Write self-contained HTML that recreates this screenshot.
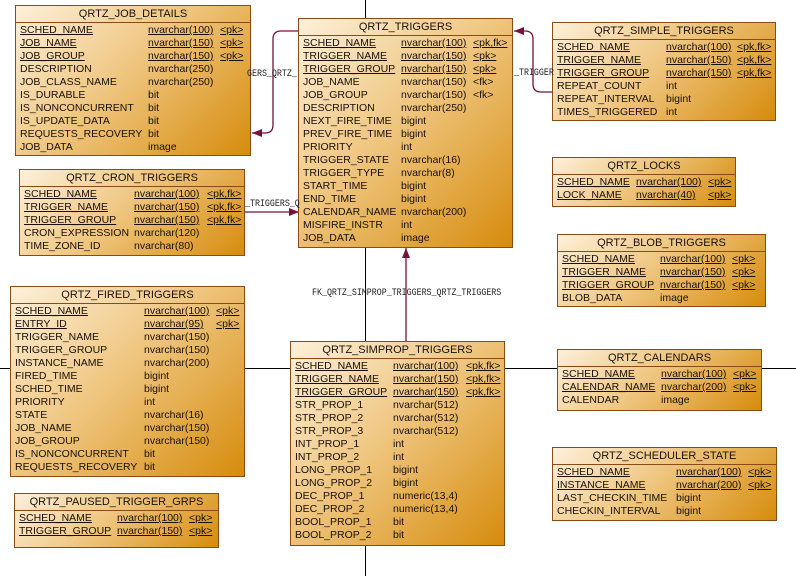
<!DOCTYPE html>
<html><head><meta charset="utf-8"><style>
body{margin:0;width:796px;height:576px;background:#fff;position:relative;overflow:hidden;font-family:"Liberation Sans",sans-serif;font-size:10.5px;color:#1a1008}
.t{position:absolute;border:1px solid #8a4b14;background:linear-gradient(135deg,#fdf0da 0%,#efc680 45%,#d68c0c 100%);box-sizing:border-box}
.h{height:16px;line-height:16px;text-align:center;border-bottom:1px solid #8a4b14;font-size:11px}
.b{padding-top:1px}
.r{height:13px;line-height:13px;white-space:nowrap;position:relative}
.r span{position:absolute;top:0}
.u{text-decoration:underline}
.lbl{position:absolute;z-index:5;font-family:"Liberation Mono",monospace;font-size:10px;color:#222;white-space:nowrap;transform:scaleX(0.83);transform-origin:0 0}
svg{position:absolute;left:0;top:0}
</style></head><body>
<svg width="796" height="576">
<line x1="365.5" y1="0" x2="365.5" y2="576" stroke="#000"/>
<line x1="0" y1="368.5" x2="796" y2="368.5" stroke="#000"/>
<g stroke="#7a0f3a" fill="none" stroke-width="1.3">
<path d="M299 31 H281 Q273 31 273 39 V125 Q273 133 265 133 H252"/>
<path d="M552 92 H541 Q533 92 533 84 V39 Q533 31 525 31 H514"/>
<path d="M244 212 H299"/>
<path d="M406 341 V248"/>
</g>
<g fill="#7a0f3a">
<polygon points="252,133 262,129 262,137"/>
<polygon points="514,31 524,27 524,35"/>
<polygon points="299,212 289,208 289,216"/>
<polygon points="406,248 402,258 410,258"/>
</g>
</svg>
<div class="lbl" style="left:247px;top:69px">GERS_QRTZ_</div>
<div class="lbl" style="left:514px;top:68px">_TRIGGER</div>
<div class="lbl" style="left:245px;top:199px">_TRIGGERS_Q</div>
<div class="lbl" style="left:312px;top:288px">FK_QRTZ_SIMPROP_TRIGGERS_QRTZ_TRIGGERS</div>

<div class="t" style="left:15px;top:5px;width:236px;height:151px"><div class="h">QRTZ_JOB_DETAILS</div><div class="b">
<div class="r"><span class="u" style="left:4px">SCHED_NAME</span><span class="u" style="left:132px">nvarchar(100)</span><span class="u" style="left:204px">&lt;pk&gt;</span></div>
<div class="r"><span class="u" style="left:4px">JOB_NAME</span><span class="u" style="left:132px">nvarchar(150)</span><span class="u" style="left:204px">&lt;pk&gt;</span></div>
<div class="r"><span class="u" style="left:4px">JOB_GROUP</span><span class="u" style="left:132px">nvarchar(150)</span><span class="u" style="left:204px">&lt;pk&gt;</span></div>
<div class="r"><span style="left:4px">DESCRIPTION</span><span style="left:132px">nvarchar(250)</span></div>
<div class="r"><span style="left:4px">JOB_CLASS_NAME</span><span style="left:132px">nvarchar(250)</span></div>
<div class="r"><span style="left:4px">IS_DURABLE</span><span style="left:132px">bit</span></div>
<div class="r"><span style="left:4px">IS_NONCONCURRENT</span><span style="left:132px">bit</span></div>
<div class="r"><span style="left:4px">IS_UPDATE_DATA</span><span style="left:132px">bit</span></div>
<div class="r"><span style="left:4px">REQUESTS_RECOVERY</span><span style="left:132px">bit</span></div>
<div class="r"><span style="left:4px">JOB_DATA</span><span style="left:132px">image</span></div>
</div></div>

<div class="t" style="left:298px;top:18px;width:215px;height:230px"><div class="h">QRTZ_TRIGGERS</div><div class="b">
<div class="r"><span class="u" style="left:4px">SCHED_NAME</span><span class="u" style="left:102px">nvarchar(100)</span><span class="u" style="left:174px">&lt;pk,fk&gt;</span></div>
<div class="r"><span class="u" style="left:4px">TRIGGER_NAME</span><span class="u" style="left:102px">nvarchar(150)</span><span class="u" style="left:174px">&lt;pk&gt;</span></div>
<div class="r"><span class="u" style="left:4px">TRIGGER_GROUP</span><span class="u" style="left:102px">nvarchar(150)</span><span class="u" style="left:174px">&lt;pk&gt;</span></div>
<div class="r"><span style="left:4px">JOB_NAME</span><span style="left:102px">nvarchar(150)</span><span style="left:174px">&lt;fk&gt;</span></div>
<div class="r"><span style="left:4px">JOB_GROUP</span><span style="left:102px">nvarchar(150)</span><span style="left:174px">&lt;fk&gt;</span></div>
<div class="r"><span style="left:4px">DESCRIPTION</span><span style="left:102px">nvarchar(250)</span></div>
<div class="r"><span style="left:4px">NEXT_FIRE_TIME</span><span style="left:102px">bigint</span></div>
<div class="r"><span style="left:4px">PREV_FIRE_TIME</span><span style="left:102px">bigint</span></div>
<div class="r"><span style="left:4px">PRIORITY</span><span style="left:102px">int</span></div>
<div class="r"><span style="left:4px">TRIGGER_STATE</span><span style="left:102px">nvarchar(16)</span></div>
<div class="r"><span style="left:4px">TRIGGER_TYPE</span><span style="left:102px">nvarchar(8)</span></div>
<div class="r"><span style="left:4px">START_TIME</span><span style="left:102px">bigint</span></div>
<div class="r"><span style="left:4px">END_TIME</span><span style="left:102px">bigint</span></div>
<div class="r"><span style="left:4px">CALENDAR_NAME</span><span style="left:102px">nvarchar(200)</span></div>
<div class="r"><span style="left:4px">MISFIRE_INSTR</span><span style="left:102px">int</span></div>
<div class="r"><span style="left:4px">JOB_DATA</span><span style="left:102px">image</span></div>
</div></div>

<div class="t" style="left:552px;top:22px;width:224px;height:99px"><div class="h">QRTZ_SIMPLE_TRIGGERS</div><div class="b">
<div class="r"><span class="u" style="left:4px">SCHED_NAME</span><span class="u" style="left:113px">nvarchar(100)</span><span class="u" style="left:184px">&lt;pk,fk&gt;</span></div>
<div class="r"><span class="u" style="left:4px">TRIGGER_NAME</span><span class="u" style="left:113px">nvarchar(150)</span><span class="u" style="left:184px">&lt;pk,fk&gt;</span></div>
<div class="r"><span class="u" style="left:4px">TRIGGER_GROUP</span><span class="u" style="left:113px">nvarchar(150)</span><span class="u" style="left:184px">&lt;pk,fk&gt;</span></div>
<div class="r"><span style="left:4px">REPEAT_COUNT</span><span style="left:113px">int</span></div>
<div class="r"><span style="left:4px">REPEAT_INTERVAL</span><span style="left:113px">bigint</span></div>
<div class="r"><span style="left:4px">TIMES_TRIGGERED</span><span style="left:113px">int</span></div>
</div></div>

<div class="t" style="left:19px;top:169px;width:226px;height:87px"><div class="h">QRTZ_CRON_TRIGGERS</div><div class="b">
<div class="r"><span class="u" style="left:4px">SCHED_NAME</span><span class="u" style="left:114px">nvarchar(100)</span><span class="u" style="left:187px">&lt;pk,fk&gt;</span></div>
<div class="r"><span class="u" style="left:4px">TRIGGER_NAME</span><span class="u" style="left:114px">nvarchar(150)</span><span class="u" style="left:187px">&lt;pk,fk&gt;</span></div>
<div class="r"><span class="u" style="left:4px">TRIGGER_GROUP</span><span class="u" style="left:114px">nvarchar(150)</span><span class="u" style="left:187px">&lt;pk,fk&gt;</span></div>
<div class="r"><span style="left:4px">CRON_EXPRESSION</span><span style="left:114px">nvarchar(120)</span></div>
<div class="r"><span style="left:4px">TIME_ZONE_ID</span><span style="left:114px">nvarchar(80)</span></div>
</div></div>

<div class="t" style="left:552px;top:157px;width:184px;height:50px"><div class="h">QRTZ_LOCKS</div><div class="b">
<div class="r"><span class="u" style="left:4px">SCHED_NAME</span><span class="u" style="left:83px">nvarchar(100)</span><span class="u" style="left:155px">&lt;pk&gt;</span></div>
<div class="r"><span class="u" style="left:4px">LOCK_NAME</span><span class="u" style="left:83px">nvarchar(40)</span><span class="u" style="left:155px">&lt;pk&gt;</span></div>
</div></div>

<div class="t" style="left:557px;top:234px;width:209px;height:73px"><div class="h">QRTZ_BLOB_TRIGGERS</div><div class="b">
<div class="r"><span class="u" style="left:4px">SCHED_NAME</span><span class="u" style="left:102px">nvarchar(100)</span><span class="u" style="left:174px">&lt;pk&gt;</span></div>
<div class="r"><span class="u" style="left:4px">TRIGGER_NAME</span><span class="u" style="left:102px">nvarchar(150)</span><span class="u" style="left:174px">&lt;pk&gt;</span></div>
<div class="r"><span class="u" style="left:4px">TRIGGER_GROUP</span><span class="u" style="left:102px">nvarchar(150)</span><span class="u" style="left:174px">&lt;pk&gt;</span></div>
<div class="r"><span style="left:4px">BLOB_DATA</span><span style="left:102px">image</span></div>
</div></div>

<div class="t" style="left:10px;top:286px;width:235px;height:191px"><div class="h">QRTZ_FIRED_TRIGGERS</div><div class="b">
<div class="r"><span class="u" style="left:4px">SCHED_NAME</span><span class="u" style="left:133px">nvarchar(100)</span><span class="u" style="left:205px">&lt;pk&gt;</span></div>
<div class="r"><span class="u" style="left:4px">ENTRY_ID</span><span class="u" style="left:133px">nvarchar(95)</span><span class="u" style="left:205px">&lt;pk&gt;</span></div>
<div class="r"><span style="left:4px">TRIGGER_NAME</span><span style="left:133px">nvarchar(150)</span></div>
<div class="r"><span style="left:4px">TRIGGER_GROUP</span><span style="left:133px">nvarchar(150)</span></div>
<div class="r"><span style="left:4px">INSTANCE_NAME</span><span style="left:133px">nvarchar(200)</span></div>
<div class="r"><span style="left:4px">FIRED_TIME</span><span style="left:133px">bigint</span></div>
<div class="r"><span style="left:4px">SCHED_TIME</span><span style="left:133px">bigint</span></div>
<div class="r"><span style="left:4px">PRIORITY</span><span style="left:133px">int</span></div>
<div class="r"><span style="left:4px">STATE</span><span style="left:133px">nvarchar(16)</span></div>
<div class="r"><span style="left:4px">JOB_NAME</span><span style="left:133px">nvarchar(150)</span></div>
<div class="r"><span style="left:4px">JOB_GROUP</span><span style="left:133px">nvarchar(150)</span></div>
<div class="r"><span style="left:4px">IS_NONCONCURRENT</span><span style="left:133px">bit</span></div>
<div class="r"><span style="left:4px">REQUESTS_RECOVERY</span><span style="left:133px">bit</span></div>
</div></div>

<div class="t" style="left:290px;top:341px;width:215px;height:205px"><div class="h">QRTZ_SIMPROP_TRIGGERS</div><div class="b">
<div class="r"><span class="u" style="left:4px">SCHED_NAME</span><span class="u" style="left:102px">nvarchar(100)</span><span class="u" style="left:175px">&lt;pk,fk&gt;</span></div>
<div class="r"><span class="u" style="left:4px">TRIGGER_NAME</span><span class="u" style="left:102px">nvarchar(150)</span><span class="u" style="left:175px">&lt;pk,fk&gt;</span></div>
<div class="r"><span class="u" style="left:4px">TRIGGER_GROUP</span><span class="u" style="left:102px">nvarchar(150)</span><span class="u" style="left:175px">&lt;pk,fk&gt;</span></div>
<div class="r"><span style="left:4px">STR_PROP_1</span><span style="left:102px">nvarchar(512)</span></div>
<div class="r"><span style="left:4px">STR_PROP_2</span><span style="left:102px">nvarchar(512)</span></div>
<div class="r"><span style="left:4px">STR_PROP_3</span><span style="left:102px">nvarchar(512)</span></div>
<div class="r"><span style="left:4px">INT_PROP_1</span><span style="left:102px">int</span></div>
<div class="r"><span style="left:4px">INT_PROP_2</span><span style="left:102px">int</span></div>
<div class="r"><span style="left:4px">LONG_PROP_1</span><span style="left:102px">bigint</span></div>
<div class="r"><span style="left:4px">LONG_PROP_2</span><span style="left:102px">bigint</span></div>
<div class="r"><span style="left:4px">DEC_PROP_1</span><span style="left:102px">numeric(13,4)</span></div>
<div class="r"><span style="left:4px">DEC_PROP_2</span><span style="left:102px">numeric(13,4)</span></div>
<div class="r"><span style="left:4px">BOOL_PROP_1</span><span style="left:102px">bit</span></div>
<div class="r"><span style="left:4px">BOOL_PROP_2</span><span style="left:102px">bit</span></div>
</div></div>

<div class="t" style="left:557px;top:349px;width:205px;height:62px"><div class="h">QRTZ_CALENDARS</div><div class="b">
<div class="r"><span class="u" style="left:4px">SCHED_NAME</span><span class="u" style="left:103px">nvarchar(100)</span><span class="u" style="left:175px">&lt;pk&gt;</span></div>
<div class="r"><span class="u" style="left:4px">CALENDAR_NAME</span><span class="u" style="left:103px">nvarchar(200)</span><span class="u" style="left:175px">&lt;pk&gt;</span></div>
<div class="r"><span style="left:4px">CALENDAR</span><span style="left:103px">image</span></div>
</div></div>

<div class="t" style="left:552px;top:447px;width:225px;height:74px"><div class="h">QRTZ_SCHEDULER_STATE</div><div class="b">
<div class="r"><span class="u" style="left:4px">SCHED_NAME</span><span class="u" style="left:123px">nvarchar(100)</span><span class="u" style="left:195px">&lt;pk&gt;</span></div>
<div class="r"><span class="u" style="left:4px">INSTANCE_NAME</span><span class="u" style="left:123px">nvarchar(200)</span><span class="u" style="left:195px">&lt;pk&gt;</span></div>
<div class="r"><span style="left:4px">LAST_CHECKIN_TIME</span><span style="left:123px">bigint</span></div>
<div class="r"><span style="left:4px">CHECKIN_INTERVAL</span><span style="left:123px">bigint</span></div>
</div></div>

<div class="t" style="left:14px;top:493px;width:205px;height:55px"><div class="h">QRTZ_PAUSED_TRIGGER_GRPS</div><div class="b">
<div class="r"><span class="u" style="left:4px">SCHED_NAME</span><span class="u" style="left:102px">nvarchar(100)</span><span class="u" style="left:174px">&lt;pk&gt;</span></div>
<div class="r"><span class="u" style="left:4px">TRIGGER_GROUP</span><span class="u" style="left:102px">nvarchar(150)</span><span class="u" style="left:174px">&lt;pk&gt;</span></div>
</div></div>
</body></html>
